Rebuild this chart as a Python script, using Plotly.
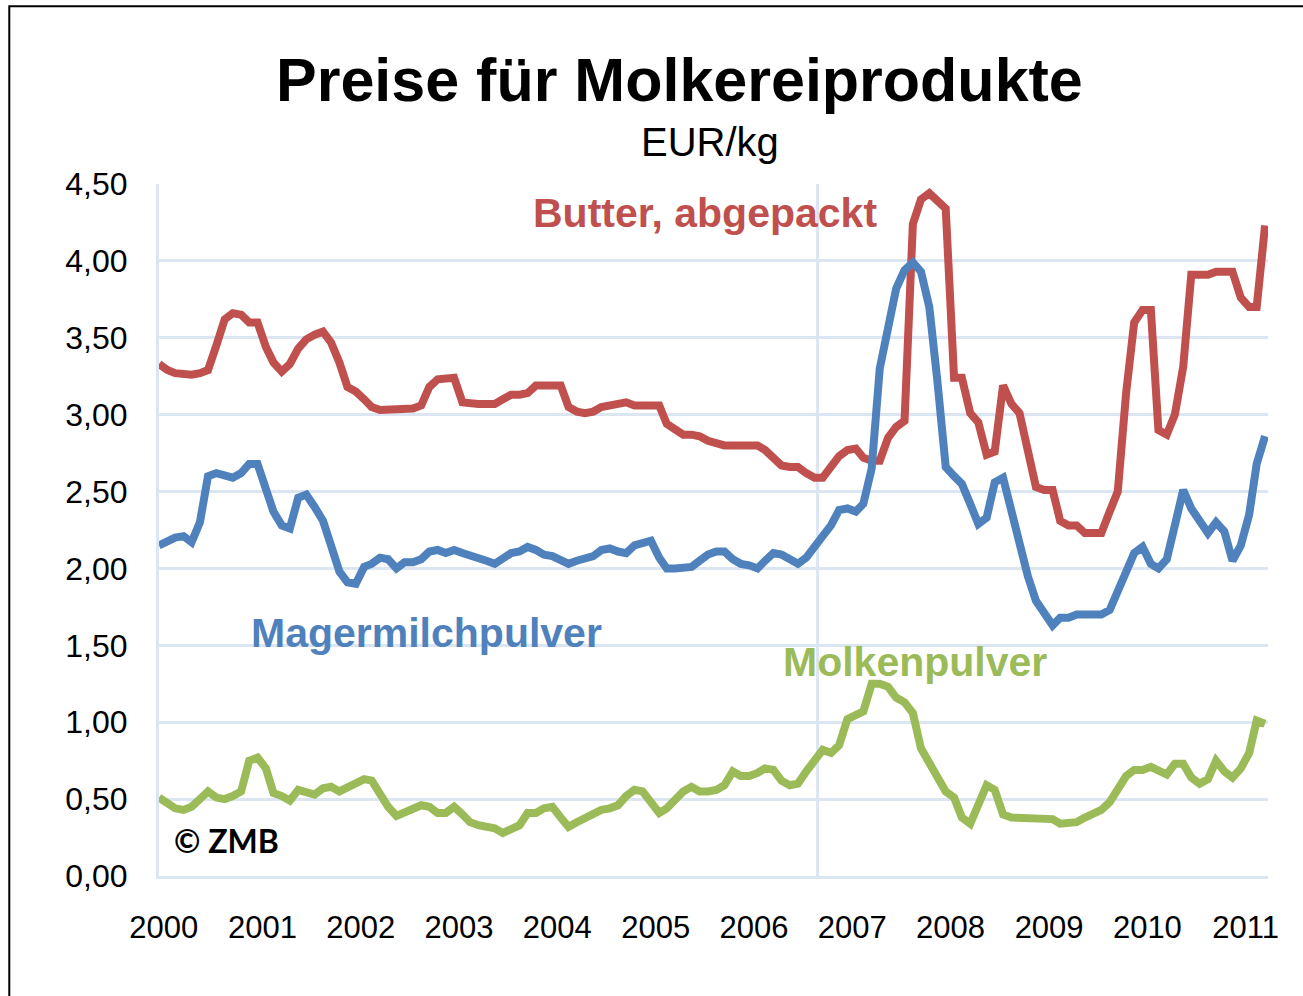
import pandas as pd
import plotly.graph_objects as go

# ---- data (monthly, Jan 2000 - Apr 2011), EUR/kg ----
months = pd.date_range("2000-01-01", periods=136, freq="MS")

butter = [
    3.33, 3.29, 3.27, 3.26, 3.26, 3.27, 3.29, 3.45, 3.62, 3.66, 3.65, 3.60,  # 2000
    3.60, 3.44, 3.34, 3.28, 3.33, 3.43, 3.49, 3.52, 3.54, 3.47, 3.34, 3.18,  # 2001
    3.15, 3.10, 3.05, 3.03, 3.03, 3.03, 3.03, 3.04, 3.06, 3.18, 3.23, 3.24,  # 2002
    3.24, 3.08, 3.07, 3.07, 3.07, 3.07, 3.10, 3.13, 3.13, 3.14, 3.19, 3.19,  # 2003
    3.19, 3.19, 3.05, 3.02, 3.01, 3.02, 3.05, 3.06, 3.07, 3.08, 3.06, 3.06,  # 2004
    3.06, 3.06, 2.94, 2.91, 2.87, 2.87, 2.86, 2.83, 2.81, 2.80, 2.80, 2.80,  # 2005
    2.80, 2.80, 2.77, 2.71, 2.67, 2.66, 2.66, 2.62, 2.59, 2.59, 2.67, 2.73,  # 2006
    2.77, 2.78, 2.72, 2.70, 2.70, 2.85, 2.92, 2.96, 4.24, 4.40, 4.44, 4.39,  # 2007
    4.34, 3.24, 3.24, 3.01, 2.95, 2.74, 2.76, 3.19, 3.07, 3.01, 2.77, 2.53,  # 2008
    2.51, 2.51, 2.31, 2.28, 2.28, 2.23, 2.23, 2.23, 2.37, 2.50, 3.14, 3.60,  # 2009
    3.68, 3.68, 2.90, 2.87, 3.00, 3.31, 3.91, 3.91, 3.91, 3.93, 3.93, 3.93,  # 2010
    3.76, 3.70, 3.70, 4.23,                                                  # 2011
]

magermilch = [
    2.15, 2.18, 2.20, 2.21, 2.17, 2.30, 2.60, 2.62, 2.60, 2.59, 2.62, 2.68,  # 2000
    2.68, 2.50, 2.37, 2.28, 2.26, 2.46, 2.48, 2.40, 2.31, 2.15, 1.98, 1.91,  # 2001
    1.90, 2.01, 2.03, 2.07, 2.06, 2.00, 2.04, 2.04, 2.06, 2.11, 2.12, 2.10,  # 2002
    2.12, 2.10, 2.08, 2.06, 2.05, 2.03, 2.07, 2.10, 2.11, 2.14, 2.12, 2.09,  # 2003
    2.08, 2.05, 2.03, 2.05, 2.07, 2.08, 2.12, 2.13, 2.11, 2.10, 2.15, 2.17,  # 2004
    2.18, 2.07, 2.00, 2.00, 2.01, 2.01, 2.05, 2.09, 2.11, 2.11, 2.06, 2.03,  # 2005
    2.02, 2.00, 2.05, 2.10, 2.09, 2.06, 2.03, 2.07, 2.15, 2.21, 2.28, 2.38,  # 2006
    2.39, 2.37, 2.42, 2.65, 3.30, 3.60, 3.82, 3.94, 3.99, 3.93, 3.70, 3.22,  # 2007
    2.66, 2.60, 2.55, 2.42, 2.29, 2.33, 2.56, 2.59, 2.37, 2.12, 1.95, 1.79,  # 2008
    1.70, 1.63, 1.68, 1.68, 1.70, 1.70, 1.70, 1.70, 1.73, 1.86, 2.00, 2.10,  # 2009
    2.14, 2.03, 2.00, 2.06, 2.28, 2.51, 2.39, 2.32, 2.23, 2.30, 2.24, 2.05,  # 2010
    2.15, 2.35, 2.68, 2.86,                                                  # 2011
]

molken = [
    0.51, 0.47, 0.44, 0.43, 0.45, 0.50, 0.55, 0.51, 0.50, 0.52, 0.55, 0.75,  # 2000
    0.77, 0.70, 0.54, 0.52, 0.49, 0.56, 0.55, 0.53, 0.57, 0.58, 0.55, 0.58,  # 2001
    0.60, 0.63, 0.62, 0.53, 0.45, 0.39, 0.41, 0.43, 0.46, 0.45, 0.41, 0.41,  # 2002
    0.45, 0.40, 0.35, 0.33, 0.32, 0.31, 0.28, 0.30, 0.33, 0.41, 0.41, 0.44,  # 2003
    0.45, 0.38, 0.32, 0.35, 0.38, 0.40, 0.43, 0.44, 0.46, 0.52, 0.56, 0.55,  # 2004
    0.48, 0.41, 0.44, 0.49, 0.55, 0.58, 0.55, 0.55, 0.56, 0.59, 0.68, 0.65,  # 2005
    0.65, 0.67, 0.70, 0.69, 0.62, 0.59, 0.60, 0.68, 0.76, 0.82, 0.80, 0.85,  # 2006
    1.02, 1.04, 1.07, 1.25, 1.25, 1.23, 1.16, 1.13, 1.06, 0.83, 0.74, 0.63,  # 2007
    0.55, 0.51, 0.38, 0.34, 0.45, 0.59, 0.56, 0.40, 0.38, 0.38, 0.38, 0.38,  # 2008
    0.38, 0.37, 0.34, 0.34, 0.35, 0.38, 0.41, 0.43, 0.48, 0.56, 0.65, 0.69,  # 2009
    0.69, 0.71, 0.68, 0.66, 0.73, 0.73, 0.64, 0.60, 0.63, 0.75, 0.68, 0.64,  # 2010
    0.70, 0.80, 1.01, 0.99,                                                  # 2011
]

series_names = ["Butter, abgepackt", "Magermilchpulver", "Molkenpulver"]
series_values = [butter, magermilch, molken]
series_colors = ["#C0504D", "#4F81BD", "#9BBB59"]

year_ticks = pd.date_range("2000-01-01", periods=12, freq="YS") + pd.Timedelta(days=18)
year_labels = [str(d.year) for d in year_ticks]
y_ticks = [0, 0.5, 1.0, 1.5, 2.0, 2.5, 3.0, 3.5, 4.0, 4.5]
y_labels = [f"{v:.2f}".replace(".", ",") for v in y_ticks]
marker_month = "2006-09-12"

GRID = "#DCE6F2"
FONT = "Liberation Sans, Arial, sans-serif"

fig = go.Figure()
for name, vals, col in zip(series_names, series_values, series_colors):
    fig.add_trace(go.Scatter(
        x=months, y=vals, mode="lines", name=name,
        line=dict(color=col, width=8), showlegend=False,
    ))

fig.update_layout(
    width=1303, height=996,
    margin=dict(l=159, r=35, t=184, b=120),
    paper_bgcolor="white", plot_bgcolor="white",
    font=dict(family=FONT, color="black"),
)

fig.update_xaxes(
    type="date",
    range=["2000-01-01", "2011-04-12"],
    tickvals=year_ticks, ticktext=year_labels,
    tickfont=dict(size=31, family=FONT),
    showgrid=False, zeroline=False,
    showline=True, linecolor=GRID, linewidth=3,
    ticks="", ticklabelstandoff=22,
)
fig.update_yaxes(
    range=[0, 4.5],
    tickvals=y_ticks, ticktext=y_labels,
    tickfont=dict(size=32, family=FONT),
    showgrid=True, gridcolor=GRID, gridwidth=3,
    zeroline=False,
    showline=True, linecolor=GRID, linewidth=3,
    ticks="", ticklabelstandoff=22,
)

# vertical separator line
fig.add_shape(type="line", xref="x", yref="paper",
              x0=marker_month, x1=marker_month, y0=0, y1=1,
              line=dict(color=GRID, width=3), layer="below")

# outer frame
fig.add_shape(type="rect", xref="paper", yref="paper",
              x0=-0.135, x1=1.2, y0=-0.4, y1=1.257,
              line=dict(color="black", width=2))

anns = [
    dict(text="<b>Preise für Molkereiprodukte</b>", x=0.469, y=1.150,
         font=dict(size=61, color="black", family=FONT)),
    dict(text="EUR/kg", x=0.497, y=1.061,
         font=dict(size=40, color="black", family=FONT)),
    dict(text="<b>Butter, abgepackt</b>", x=0.492, y=0.958,
         font=dict(size=41, color=series_colors[0], family=FONT)),
    dict(text="<b>Magermilchpulver</b>", x=0.241, y=0.351,
         font=dict(size=41, color=series_colors[1], family=FONT)),
    dict(text="<b>Molkenpulver</b>", x=0.682, y=0.309,
         font=dict(size=41, color=series_colors[2], family=FONT)),
]
for a in anns:
    fig.add_annotation(xref="paper", yref="paper", showarrow=False,
                       xanchor="center", yanchor="middle", **a)
fig.add_annotation(text="<b>© ZMB</b>", xref="paper", yref="paper",
                   x=0.0117, y=0.052, xanchor="left", yanchor="middle",
                   showarrow=False,
                   font=dict(size=32, color="black", family="Lato, Open Sans, sans-serif"))

fig.write_html("out.html",
               config={"displayModeBar": False},
               post_script="document.body.style.margin='0';document.body.style.overflow='hidden';")
